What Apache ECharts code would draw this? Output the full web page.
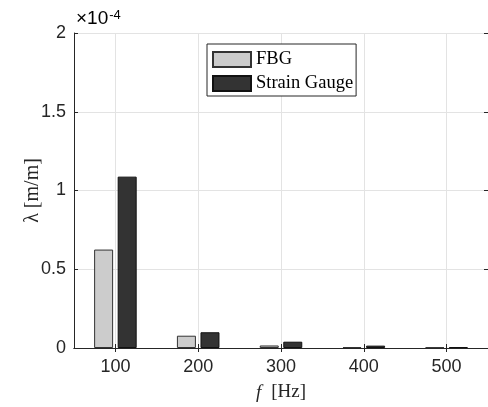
<!DOCTYPE html>
<html>
<head>
<meta charset="utf-8">
<script src="https://cdn.jsdelivr.net/npm/echarts@6/dist/echarts.min.js"></script>
<style>html,body{margin:0;padding:0;background:#fff}#c{width:488px;height:407px}</style>
</head>
<body>
<div id="c"></div>
<script>
var categories = ['100', '200', '300', '400', '500'];
var fbgValues = [0.625e-4, 0.078e-4, 0.016e-4, 0.006e-4, 0.004e-4];
var strainValues = [1.088e-4, 0.100e-4, 0.040e-4, 0.015e-4, 0.006e-4];
var yTicks = [0, 0.5e-4, 1e-4, 1.5e-4, 2e-4];

var chart = echarts.init(document.getElementById('c'), null, {renderer: 'canvas'});
var sans = 'Liberation Sans';
var serif = 'Liberation Serif';
var axisCol = '#262626';
chart.setOption({
  animation: false,
  backgroundColor: '#fff',
  grid: {left: 74, top: 33, right: -3, bottom: 59, containLabel: false},
  legend: {
    orient: 'vertical', left: 207, top: 44,
    icon: 'rect',
    itemWidth: 38, itemHeight: 15, itemGap: 5,
    padding: [6, 3, 3, 5],
    borderColor: '#262626', borderWidth: 1, borderRadius: 0,
    backgroundColor: '#fff',
    textStyle: {fontFamily: serif, fontSize: 18.5, lineHeight: 15, color: '#000'},
    data: ['FBG', 'Strain Gauge']
  },
  xAxis: [{
    type: 'category', data: categories, position: 'bottom',
    boundaryGap: true,
    axisLine: {lineStyle: {color: axisCol, width: 1}},
    axisTick: {show: true, inside: true, alignWithLabel: true, length: 4, lineStyle: {color: axisCol}},
    axisLabel: {fontFamily: sans, fontSize: 18, color: '#262626', margin: 10},
    splitLine: {show: true, alignWithLabel: true, lineStyle: {color: '#e3e3e3', width: 1}},
    name: '{i|f}   {n|[Hz]}', nameLocation: 'middle', nameGap: 35, nameMoveOverlap: false,
    nameTextStyle: {rich: {
      i: {fontFamily: serif, fontStyle: 'italic', fontSize: 19, color: '#262626'},
      n: {fontFamily: serif, fontSize: 19, color: '#262626'}
    }}
  }, {
    type: 'category', data: categories, position: 'top',
    boundaryGap: true,
    axisLine: {lineStyle: {color: axisCol, width: 1}},
    axisTick: {show: true, inside: true, alignWithLabel: true, length: 4, lineStyle: {color: axisCol}},
    axisLabel: {show: false},
    splitLine: {show: false}
  }],
  yAxis: [{
    type: 'value', min: yTicks[0], max: yTicks[yTicks.length - 1], interval: 0.5e-4,
    axisLine: {show: true, lineStyle: {color: axisCol, width: 1}},
    axisTick: {show: true, inside: true, length: 4, lineStyle: {color: axisCol}},
    axisLabel: {fontFamily: sans, fontSize: 18, color: '#262626', margin: 8,
      formatter: function (v) { return String(Math.round(v / 1e-4 * 100) / 100); }},
    splitLine: {show: true, lineStyle: {color: '#e3e3e3', width: 1}},
    name: 'λ [m/m]', nameLocation: 'middle', nameGap: 31, nameRotate: 90, nameMoveOverlap: false,
    nameTextStyle: {fontFamily: serif, fontSize: 20, color: '#262626'}
  }, {
    type: 'value', min: yTicks[0], max: yTicks[yTicks.length - 1], interval: 0.5e-4,
    position: 'right',
    axisLine: {show: true, lineStyle: {color: axisCol, width: 1}},
    axisTick: {show: true, inside: true, length: 4, lineStyle: {color: axisCol}},
    axisLabel: {show: false},
    splitLine: {show: false}
  }],
  graphic: [{
    type: 'text', left: 76, top: 9,
    style: {
      text: '{a|×10}{b|-4}',
      rich: {
        a: {fontFamily: sans, fontSize: 19, color: '#262626', verticalAlign: 'bottom'},
        b: {fontFamily: sans, fontSize: 13, color: '#262626', verticalAlign: 'top', padding: [0, 0, 2, 1]}
      }
    }
  }],
  series: [{
    name: 'FBG', type: 'bar', data: fbgValues, barWidth: 19, barGap: '24%',
    itemStyle: {color: '#cccccc', borderColor: '#333333', borderWidth: 1}
  }, {
    name: 'Strain Gauge', type: 'bar', data: strainValues, barWidth: 19, barGap: '24%',
    itemStyle: {color: '#333333', borderColor: '#111111', borderWidth: 1}
  }]
});
</script>
</body>
</html>
